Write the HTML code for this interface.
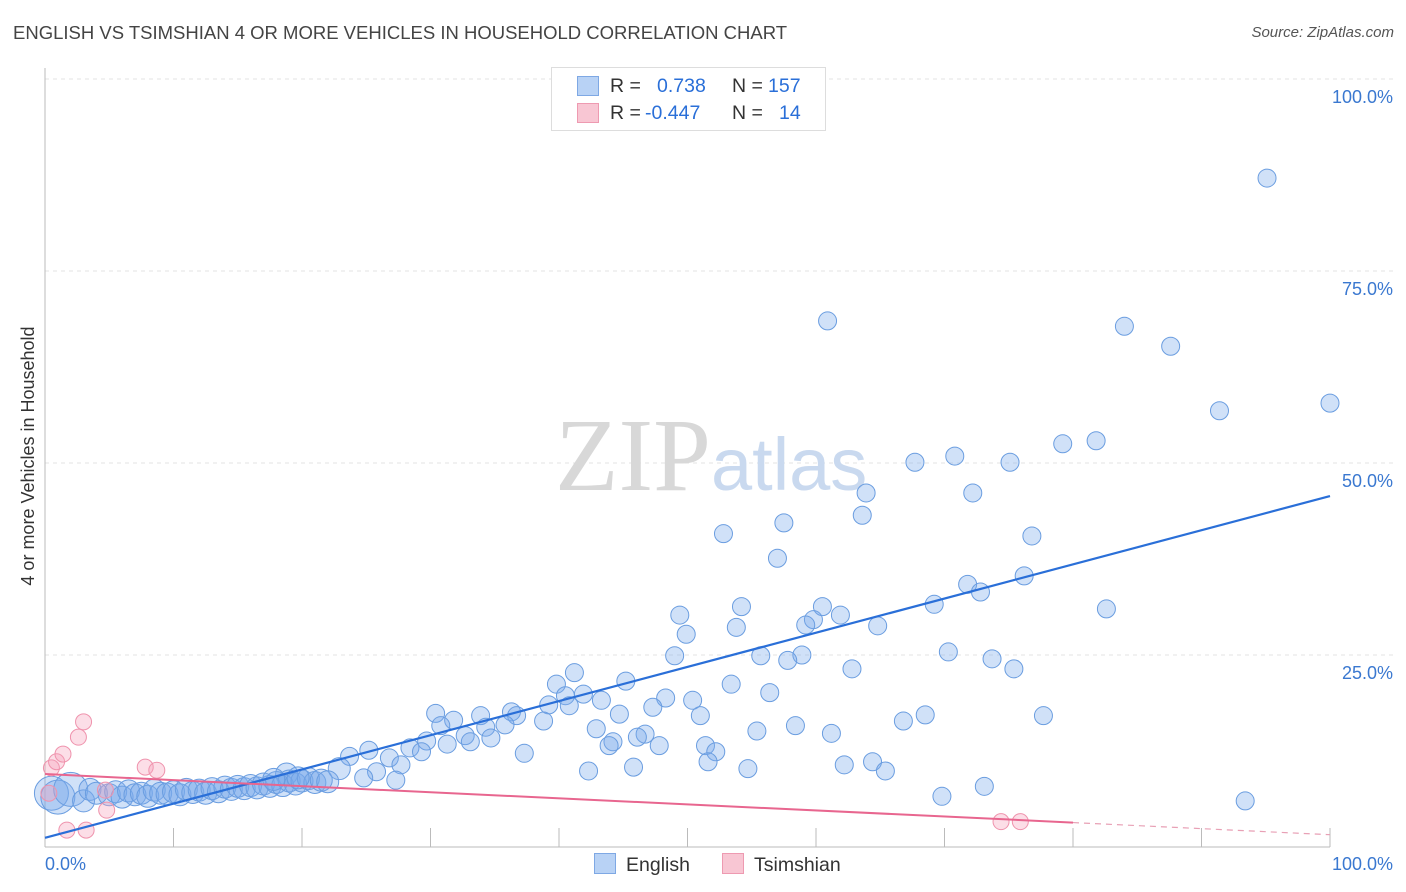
<!DOCTYPE html>
<html><head><meta charset="utf-8"><style>
body{margin:0;background:#fff;font-family:"Liberation Sans",sans-serif;}
#wrap{position:relative;width:1406px;height:892px;overflow:hidden;}
.t{position:absolute;white-space:nowrap;}
</style></head><body>
<div id="wrap">
<div class="t" style="left:13px;top:22px;font-size:18.5px;color:#444;">ENGLISH VS TSIMSHIAN 4 OR MORE VEHICLES IN HOUSEHOLD CORRELATION CHART</div>
<div class="t" style="right:12px;top:24px;font-size:15px;color:#555;font-style:italic;">Source: ZipAtlas.com</div>
<svg id="svg" width="1406" height="892" style="position:absolute;left:0;top:0"></svg>
</div>
<script>
const xTicks=[0,10,20,30,40,50,60,70,80,90,100];
const yTickVals=[25,50,75,100];
const yTickLabels=["25.0%","50.0%","75.0%","100.0%"];
const englishX=[95.1,60.9,84.0,87.6,91.4,100,70.8,67.7,75.1,79.2,81.8,63.9,72.2,63.6,57.5,52.8,76.8,57.0,76.2,71.8,72.8,69.2,82.6,60.5,54.2,61.9,59.8,59.2,49.4,49.9,53.8,64.8,70.3,58.9,55.7,57.8,73.7,49.0,62.8,75.4,41.2,45.2,53.4,39.8,56.4,41.9,48.3,43.3,50.4,40.5,39.2,40.8,47.3,44.7,51.0,77.7,68.5,66.8,36.3,30.4,31.8,38.8,33.9,36.7,34.3,58.4,42.9,55.4,46.7,61.2,30.8,32.7,34.7,35.8,29.7,44.2,46.1,43.9,47.8,31.3,33.1,28.4,51.4,52.2,37.3,29.3,25.2,23.7,26.8,51.6,64.4,62.2,27.7,22.9,25.8,42.3,45.8,54.7,65.4,24.8,27.3,18.8,73.1,69.8,93.4,
0.5,1,2,3,3.5,4,5,5.5,6,6.5,7,7.5,8,8.5,9,9.5,10,10.5,11,11.5,12,12.5,13,13.5,14,14.5,15,15.5,16,16.5,17,17.5,18,18.5,19,19.5,20,20.5,21,21.5,22,17.8,19.7];
const englishY=[87.1,68.5,67.8,65.2,56.8,57.8,50.9,50.1,50.1,52.5,52.9,46.1,46.1,43.2,42.2,40.8,40.5,37.6,35.3,34.2,33.2,31.6,31.0,31.3,31.3,30.2,29.6,28.9,30.2,27.7,28.6,28.8,25.4,25.0,24.9,24.3,24.5,24.9,23.2,23.2,22.7,21.6,21.2,21.2,20.1,19.9,19.4,19.1,19.1,19.7,18.5,18.4,18.2,17.3,17.1,17.1,17.2,16.4,17.6,17.4,16.5,16.4,17.1,17.1,15.6,15.8,15.4,15.1,14.7,14.8,15.8,14.5,14.2,15.9,13.8,13.7,14.3,13.2,13.2,13.4,13.7,12.9,13.2,12.4,12.2,12.4,12.6,11.8,11.6,11.1,11.1,10.7,10.7,10.2,9.8,9.9,10.4,10.2,9.9,9.0,8.7,9.5,7.9,6.6,6.0,
7.0,6.5,7.5,6.0,7.5,7.0,6.8,7.2,6.5,7.3,6.8,7.0,6.6,7.4,7.0,6.9,7.2,6.8,7.5,7.1,7.4,7.0,7.6,7.2,7.8,7.5,7.9,7.6,8.0,7.7,8.2,7.9,8.4,8.0,8.6,8.2,8.6,8.9,8.4,8.7,8.5,8.8,9.0];
const tsimX=[0.3,0.5,0.9,1.4,2.6,3.0,1.7,3.2,4.8,7.8,8.7,74.4,75.9,4.7];
const tsimY=[7.0,10.3,11.1,12.1,14.3,16.3,2.2,2.2,4.8,10.4,10.0,3.3,3.3,7.4];
const englishLine=[1.2,45.7];
const tsimLine=[9.5,1.6];
const tsimSolidEnd=80;

const X0=45,X1=1330,Y0=847,Y100=79;
const sx=v=>X0+(X1-X0)*v/100, sy=v=>Y0-(Y0-Y100)*v/100;
const svg=document.getElementById('svg');
function mk(tag,attrs){const e=document.createElementNS('http://www.w3.org/2000/svg',tag);for(const k in attrs)e.setAttribute(k,attrs[k]);svg.appendChild(e);return e;}
yTickVals.forEach((v,i)=>{
 const g=mk('line',{x1:X0,x2:X1+64,y1:sy(v),y2:sy(v),stroke:'#e3e3e3','stroke-dasharray':'4,4'});
 
 
 const t=mk('text',{x:1393,y:sy(v)+24,'text-anchor':'end','font-size':18,fill:'#3a78d0','font-family':'Liberation Sans, sans-serif'});
 t.textContent=yTickLabels[i];
 
 
});
const ax=mk('line',{x1:X0,x2:X0,y1:68,y2:Y0,stroke:'#bbb'});


const bx=mk('line',{x1:X0,x2:X1,y1:Y0,y2:Y0,stroke:'#bbb'});


xTicks.forEach(v=>{
 const l=mk('line',{x1:sx(v),x2:sx(v),y1:Y0,y2:Y0-19,stroke:'#bbb'});
 
 
});
[[0,'0.0%','start',45],[100,'100.0%','end',1393]].forEach(a=>{
 const t=mk('text',{x:a[3],y:870,'text-anchor':a[2],'font-size':18,fill:'#3a78d0','font-family':'Liberation Sans, sans-serif'});
 t.textContent=a[1];
 
 
});
const w=mk('text',{x:555,y:490,'text-anchor':'start','font-size':104,fill:'#d8d8d8','font-family':'Liberation Serif, serif'});
w.innerHTML='ZIP<tspan fill="#c9d9ef" font-family="Liberation Sans, sans-serif" font-size="74">atlas</tspan>';


const yt=mk('text',{x:0,y:0,transform:'translate(34,456) rotate(-90)','text-anchor':'middle','font-size':18,fill:'#333','font-family':'Liberation Sans, sans-serif'});
yt.textContent='4 or more Vehicles in Household';


englishX.forEach((x,i)=>{
 const r=x<3?17:(x<23?11:9);
 const c=mk('circle',{cx:sx(x),cy:sy(englishY[i]),r:r,fill:'rgba(120,170,235,0.35)',stroke:'#6a9de0','stroke-width':1});
 
 
});
tsimX.forEach((x,i)=>{
 const c=mk('circle',{cx:sx(x),cy:sy(tsimY[i]),r:8,fill:'rgba(245,160,185,0.35)',stroke:'#ef93ad','stroke-width':1});
 
 
});
const el=mk('line',{x1:sx(0),y1:sy(englishLine[0]),x2:sx(100),y2:sy(englishLine[1]),stroke:'#2a6fd8','stroke-width':2.2});


const ty=v=>tsimLine[0]+(tsimLine[1]-tsimLine[0])*v/100;
const tl=mk('line',{x1:sx(0),y1:sy(ty(0)),x2:sx(tsimSolidEnd),y2:sy(ty(tsimSolidEnd)),stroke:'#e8668f','stroke-width':2});


const td=mk('line',{x1:sx(tsimSolidEnd),y1:sy(ty(tsimSolidEnd)),x2:sx(100),y2:sy(ty(100)),stroke:'#e8a0b5','stroke-width':1.2,'stroke-dasharray':'6,5'});


</script>
<div class="t" style="left:551px;top:67px;width:273px;height:62px;border:1px solid #ddd;background:#fff;font-size:19.5px;color:#333;">
 <div style="position:absolute;left:25px;top:8px;width:20px;height:18px;background:#b8d2f5;border:1px solid #7ea8e4;"></div>
 <div style="position:absolute;left:58px;top:7px;">R = </div><div style="position:absolute;left:105px;top:7px;color:#2a6fd8">0.738</div><div style="position:absolute;left:180px;top:7px;">N =</div><div style="position:absolute;left:216px;top:7px;color:#2a6fd8">157</div>
 <div style="position:absolute;left:25px;top:35px;width:20px;height:18px;background:#f8c6d3;border:1px solid #ee9ab1;"></div>
 <div style="position:absolute;left:58px;top:34px;">R = </div><div style="position:absolute;left:93px;top:34px;color:#2a6fd8">-0.447</div><div style="position:absolute;left:180px;top:34px;">N =</div><div style="position:absolute;left:227px;top:34px;color:#2a6fd8">14</div>
</div>
<div class="t" style="left:594px;top:853px;font-size:19.5px;color:#333;"><span style="display:inline-block;width:20px;height:19px;background:#b8d2f5;border:1px solid #7ea8e4;vertical-align:-3px;margin-right:10px;"></span>English</div>
<div class="t" style="left:722px;top:853px;font-size:19.5px;color:#333;"><span style="display:inline-block;width:20px;height:19px;background:#f8c6d3;border:1px solid #ee9ab1;vertical-align:-3px;margin-right:10px;"></span>Tsimshian</div>
</body></html>
